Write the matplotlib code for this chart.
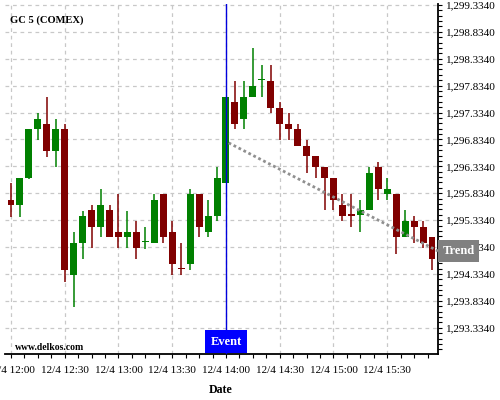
import numpy as np
import matplotlib
matplotlib.use("Agg")
import matplotlib.pyplot as plt
from matplotlib.ticker import FixedLocator, FuncFormatter

# 5 minute bars on 12/4, first bar 12:00
times = ["12:00", "12:05", "12:10", "12:15", "12:20", "12:25", "12:30", "12:35", "12:40", "12:45",
         "12:50", "12:55", "13:00", "13:05", "13:10", "13:15", "13:20", "13:25", "13:30", "13:35",
         "13:40", "13:45", "13:50", "13:55", "14:00", "14:05", "14:10", "14:15", "14:20", "14:25",
         "14:30", "14:35", "14:40", "14:45", "14:50", "14:55", "15:00", "15:05", "15:10", "15:15",
         "15:20", "15:25", "15:30", "15:35", "15:40", "15:45", "15:50", "15:55"]
opens = [1295.71, 1295.62, 1296.12, 1297.03, 1297.12, 1296.62, 1297.03, 1294.32, 1294.91, 1295.52,
         1295.21, 1295.52, 1295.11, 1295.02, 1295.11, 1294.92, 1294.91, 1295.82, 1295.11, 1294.44,
         1294.52, 1295.82, 1295.11, 1295.41, 1296.02, 1297.53, 1297.22, 1297.62, 1297.93, 1297.92,
         1297.42, 1297.12, 1297.03, 1296.71, 1296.53, 1296.32, 1296.12, 1295.62, 1295.44, 1295.43,
         1295.52, 1296.32, 1295.82, 1295.82, 1295.02, 1295.32, 1295.21, 1295.02]
highs = [1296.02, 1296.12, 1297.03, 1297.33, 1297.62, 1297.22, 1297.12, 1295.12, 1295.51, 1295.62,
         1295.91, 1295.62, 1295.82, 1295.51, 1295.32, 1295.21, 1295.82, 1295.82, 1295.32, 1294.91,
         1295.91, 1295.82, 1295.71, 1296.32, 1297.62, 1297.92, 1297.92, 1298.53, 1298.22, 1298.22,
         1297.53, 1297.33, 1297.12, 1296.83, 1296.53, 1296.32, 1296.12, 1295.82, 1295.82, 1295.71,
         1296.32, 1296.42, 1296.12, 1295.82, 1295.52, 1295.41, 1295.32, 1295.02]
lows = [1295.39, 1295.39, 1296.10, 1296.83, 1296.51, 1296.32, 1294.19, 1293.72, 1294.61, 1294.82,
        1295.02, 1295.02, 1294.82, 1294.82, 1294.61, 1294.80, 1294.91, 1294.91, 1294.32, 1294.32,
        1294.41, 1295.02, 1295.02, 1295.32, 1296.02, 1297.03, 1297.03, 1297.62, 1297.62, 1297.33,
        1296.83, 1296.83, 1296.71, 1296.21, 1296.12, 1295.52, 1295.52, 1295.32, 1295.21, 1295.11,
        1295.52, 1295.71, 1295.71, 1294.71, 1295.02, 1294.91, 1294.82, 1294.41]
closes = [1295.62, 1296.12, 1297.03, 1297.22, 1296.62, 1297.03, 1294.41, 1294.91, 1295.41, 1295.21,
          1295.62, 1295.02, 1295.02, 1295.11, 1294.82, 1294.94, 1295.71, 1295.02, 1294.52, 1294.42,
          1295.82, 1295.21, 1295.41, 1296.12, 1297.62, 1297.12, 1297.62, 1297.83, 1297.95, 1297.42,
          1297.12, 1297.03, 1296.71, 1296.53, 1296.32, 1296.12, 1295.71, 1295.41, 1295.42, 1295.52,
          1296.21, 1295.91, 1295.91, 1295.02, 1295.32, 1295.21, 1294.91, 1294.61]

tick_times = ["12:00", "12:30", "13:00", "13:30", "14:00", "14:30", "15:00", "15:30"]
event_time = "14:00"
trend_x = [24.3, 47.67]          # bar positions of trend ends
trend_y = [1296.77, 1294.76]
ytick_vals = [1293.334, 1293.834, 1294.334, 1294.834, 1295.334, 1295.834,
              1296.334, 1296.834, 1297.334, 1297.834, 1298.334, 1298.834, 1299.334]

UP = "#008000"
DOWN = "#800000"
SERIF = ["Liberation Serif", "DejaVu Serif"]
plt.rcParams["font.family"] = SERIF

fig = plt.figure(figsize=(5, 4), dpi=100, facecolor="white")
ax = fig.add_axes([0.01, 0.115, 0.866, 0.875])

x = np.arange(len(times))
o = np.array(opens); c = np.array(closes)
cols = [UP if cc >= oo else DOWN for oo, cc in zip(o, c)]

# wicks then bodies
ax.vlines(x, lows, highs, colors=cols, linewidth=1.1, zorder=3)
body_lo = np.minimum(o, c)
body_h = np.maximum(np.abs(c - o), 0.02)
ax.bar(x, body_h, bottom=body_lo, width=0.78, color=cols, linewidth=0, zorder=4)

ax.set_xlim(-0.67, 47.67)
ax.set_ylim(1292.847, 1299.35)

# grid
ax.set_axisbelow(True)
ax.grid(True, which="major", color="#c8c8c8", linestyle=(0, (3, 3)), linewidth=0.9)

# x ticks
tick_pos = [times.index(t) for t in tick_times]
ax.xaxis.set_major_locator(FixedLocator(tick_pos))
ax.set_xticklabels(["12/4 " + t for t in tick_times])
ax.xaxis.set_minor_locator(FixedLocator(np.arange(-1.5, 48, 1.5)))
ax.tick_params(axis="x", which="both", direction="out", length=3, width=0.8,
               labelsize=8, pad=5.5)

# y ticks on the right
ax.yaxis.tick_right()
ax.yaxis.set_major_locator(FixedLocator(ytick_vals))
ax.yaxis.set_minor_locator(FixedLocator(np.arange(1292.934, 1299.4, 0.1)))
ax.yaxis.set_major_formatter(FuncFormatter(lambda v, p: "{:,.4f}".format(v)))
ax.tick_params(axis="y", which="both", direction="out", length=3, width=0.8,
               labelsize=8, pad=2.5)

for s in ["left", "top"]:
    ax.spines[s].set_visible(False)
for s in ["right", "bottom"]:
    ax.spines[s].set_linewidth(1.3)

# event marker
ex = times.index(event_time)
ax.axvline(ex, color="#0000dd", linewidth=1.0, zorder=5)
ax.annotate("Event", xy=(ex, 0), xycoords=("data", "axes fraction"),
            ha="center", va="bottom", color="white", fontweight="bold", fontsize=9,
            xytext=(0, 4.5), textcoords="offset points",
            bbox=dict(boxstyle="square,pad=0.45", fc="#0000ff", ec="none"), zorder=6)

# trend line and label
ax.plot(trend_x, trend_y, color="#909090", linestyle=(0, (1, 1)), linewidth=2.0, zorder=5)
ax.annotate("Trend", xy=(1.0, trend_y[-1]), xycoords=("axes fraction", "data"),
            xytext=(3.2, 0), textcoords="offset points",
            ha="left", va="center", color="white", fontweight="bold", fontsize=9,
            bbox=dict(boxstyle="square,pad=0.38", fc="#808080", ec="none"),
            annotation_clip=False, zorder=10)

fig.text(10 / 500, 1 - 20 / 400, "GC 5 (COMEX)", fontsize=7.6, fontweight="bold", va="center")
fig.text(15 / 500, 1 - 348 / 400, "www.delkos.com", fontsize=7, fontweight="bold", va="center")
fig.text(221 / 500, 1 - 390 / 400, "Date", fontsize=8.6, fontweight="bold", ha="center", va="center")

fig.savefig("out.png", dpi=100)
